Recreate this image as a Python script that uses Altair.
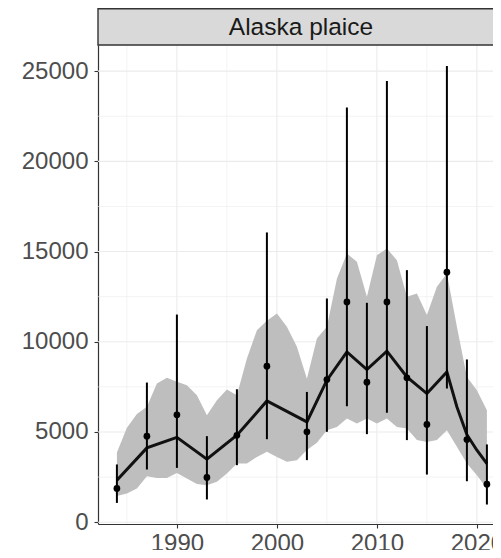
import altair as alt
import pandas as pd

# ---------------- data ----------------
ribbon_years = list(range(1984, 2022))
ribbon_upper = [3870, 5240, 6000, 6400, 7690, 8000, 7780, 7590, 7040, 5930,
                6760, 7350, 7040, 9080, 10640, 11160, 11570, 10830, 9720, 7950,
                10180, 10830, 13500, 14890, 14430, 12490, 14800, 15170, 14520, 12490,
                12680, 11480, 13050, 13780, 10830, 8050, 7320, 6210]
ribbon_lower = [1450, 1590, 1870, 2550, 2450, 2450, 2720, 2420, 2120, 2050,
                2240, 2700, 3250, 3250, 3620, 3900, 3620, 3350, 3440, 4000,
                4400, 5100, 5280, 5750, 5470, 5750, 5470, 5750, 5280, 5190,
                4550, 4450, 4550, 5100, 4180, 3250, 2600, 1870]

line_years = [1984, 1987, 1990, 1993, 1996, 1999, 2003, 2005, 2007, 2009,
              2011, 2013, 2015, 2017, 2018, 2019, 2020, 2021]
line_values = [2330, 4120, 4700, 3490, 4820, 6720, 5560, 7870, 9440, 8460,
               9480, 8050, 7130, 8330, 6390, 4850, 3990, 3250]

survey_years = [1984, 1987, 1990, 1993, 1996, 1999, 2003, 2005, 2007, 2009,
                2011, 2013, 2015, 2017, 2019, 2021]
survey_values = [1870, 4770, 5950, 2480, 4820, 8650, 5010, 7910, 12210, 7760,
                 12210, 8000, 5420, 13860, 4580, 2110]
survey_lower = [1070, 2920, 3010, 1260, 3160, 4600, 3440, 5010, 6430, 4880,
                6060, 4550, 2640, 7410, 2270, 980]
survey_upper = [3200, 7740, 11510, 4770, 7370, 16060, 7220, 12400, 22990, 12160,
                24450, 13970, 10870, 25280, 9020, 4310]

x_major = [1990, 2000, 2010, 2020]
x_minor = [1985, 1995, 2005, 2015]
y_major = [0, 5000, 10000, 15000, 20000, 25000]
y_minor = [2500, 7500, 12500, 17500, 22500]
panel_label = ["Alaska plaice"]

# ---------------- tables ----------------
ribbon_df = pd.DataFrame({"year": ribbon_years, "lo": ribbon_lower, "hi": ribbon_upper})
line_df = pd.DataFrame({"year": line_years, "value": line_values})
pts_df = pd.DataFrame({"year": survey_years, "value": survey_values,
                       "lo": survey_lower, "hi": survey_upper})
xmaj_df = pd.DataFrame({"year": x_major})
xmin_df = pd.DataFrame({"year": x_minor})
ymaj_df = pd.DataFrame({"value": y_major})
ymin_df = pd.DataFrame({"value": y_minor})
label_df = pd.DataFrame({"label": panel_label})

# plot area: page x 98..493, y 45..524
W, H = 395, 479
FONT = "Liberation Sans"

xs = alt.Scale(domain=[1982.11, 2021.61], nice=False, zero=False)
ys = alt.Scale(domain=[-100, 26450], nice=False, zero=False)

x_axis = alt.Axis(values=x_major, format="d", labelFontSize=24, labelColor="#4d4d4d",
                  labelFont=FONT, tickColor="#333333", tickSize=4, tickWidth=1.1,
                  domainColor="#333333", domainWidth=1.2, labelPadding=3,
                  labelFlush=False, labelOverlap=False, grid=False, title=None)
y_axis = alt.Axis(values=y_major, format="d", labelFontSize=24, labelColor="#4d4d4d",
                  labelFont=FONT, tickColor="#333333", tickSize=4, tickWidth=1.1,
                  domainColor="#333333", domainWidth=1.2, labelPadding=6,
                  labelOverlap=False, grid=False, title=None)

X = lambda f="year": alt.X(f"{f}:Q", scale=xs, axis=x_axis)
Y = lambda f="value": alt.Y(f"{f}:Q", scale=ys, axis=y_axis)

grid_xmin = alt.Chart(xmin_df).mark_rule(color="#ebebeb", strokeWidth=0.6).encode(x=X())
grid_xmaj = alt.Chart(xmaj_df).mark_rule(color="#ebebeb", strokeWidth=1.1).encode(x=X())
grid_ymin = alt.Chart(ymin_df).mark_rule(color="#ebebeb", strokeWidth=0.6).encode(y=Y())
grid_ymaj = alt.Chart(ymaj_df).mark_rule(color="#ebebeb", strokeWidth=1.1).encode(y=Y())

ribbon = alt.Chart(ribbon_df).mark_area(color="#bebebe", opacity=1).encode(
    x=X(), y=Y("hi"), y2="lo:Q")
line = alt.Chart(line_df).mark_line(color="#111111", strokeWidth=3).encode(x=X(), y=Y())
bars = alt.Chart(pts_df).mark_rule(color="#000000", strokeWidth=2).encode(
    x=X(), y=Y("lo"), y2="hi:Q")
points = alt.Chart(pts_df).mark_circle(color="#000000", size=45, opacity=1).encode(
    x=X(), y=Y())

strip_rect = alt.Chart(label_df).mark_rect(fill="#d9d9d9", stroke="#333333", strokeWidth=1.4).encode(
    x=alt.value(0), x2=alt.value(W + 2), y=alt.value(-36.3), y2=alt.value(0))
strip_text = alt.Chart(label_df).mark_text(fontSize=24.5, font=FONT, color="#1a1a1a",
                                           align="center", baseline="alphabetic").encode(
    x=alt.value(203), y=alt.value(-10), text="label:N")

chart = alt.layer(grid_xmin, grid_xmaj, grid_ymin, grid_ymaj, ribbon, line, bars, points,
                  strip_rect, strip_text).properties(
    width=W, height=H,
    autosize=alt.AutoSizeParams(type="none"),
    padding={"left": 90, "top": 37, "right": 0, "bottom": 26},
).configure_view(stroke=None)

chart.save("out.html", embed_options={"renderer": "svg", "actions": False})
